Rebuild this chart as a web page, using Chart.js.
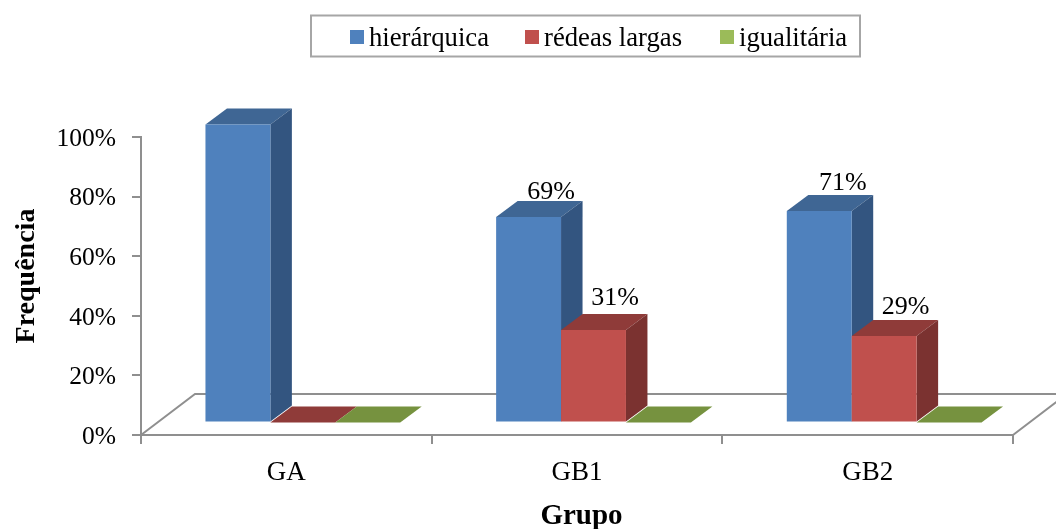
<!DOCTYPE html>
<html>
<head>
<meta charset="UTF-8">
<title>Frequência por grupo</title>
<script src="https://cdn.jsdelivr.net/npm/chart.js@4/dist/chart.umd.min.js"></script>
<style>
	html, body { margin: 0; padding: 0; background: #fff; }
	canvas { display: block; }
</style>
</head>
<body>
<canvas id="grupoChart" width="1056" height="529"></canvas>
<script>
// 데이터
const grupos = ['GA', 'GB1', 'GB2'];
const hierarquica = [100, 69, 71];
const redeasLargas = [0, 31, 29];
const igualitaria = [0, 0, 0];
const hierarquicaLabels = ['', '69%', '71%'];
const redeasLabels = ['', '31%', '29%'];
const igualitariaLabels = ['', '', ''];

const FONT = '"Liberation Serif", "Times New Roman", serif';
const AXIS_COLOR = '#8f8f8f';

// 막대 그룹을 바닥면 안쪽으로 옮기는 값과 막대 깊이
const barShift = { x: 16.5, y: -12.5 };
const barDepth = { x: 21.5, y: -16 };
const floorDepth = { x: 54, y: -41 };

const seriesStyle = [
	{ front: '#4f81bd', side: '#335580', top: '#3f6694', labels: hierarquicaLabels, nudge: [[0, 0], [1, 5], [2, 2]] },
	{ front: '#c0504d', side: '#7b3230', top: '#8f3b39', labels: redeasLabels, nudge: [[0, 0], [0, -2], [0, 1]] },
	{ front: '#9bbb59', side: '#5f7636', top: '#76923f', labels: igualitariaLabels, nudge: [[0, 0], [0, 0], [0, 0]] }
];

function face(ctx, points, color) {
	ctx.fillStyle = color;
	ctx.beginPath();
	points.forEach(function(p, i) {
		if (i == 0) ctx.moveTo(p[0], p[1]);
		else ctx.lineTo(p[0], p[1]);
	});
	ctx.closePath();
	ctx.fill();
}

const bars3d = {
	id: 'bars3d',
	// 기본 막대 그리기는 끄고 아래에서 입체로 그린다
	beforeDatasetDraw: function() {
		return false;
	},
	afterDatasetsDraw: function(chart) {
		const ctx = chart.ctx;
		const x = chart.scales.x;
		const y = chart.scales.y;
		const base = y.getPixelForValue(0);

		// 바닥면
		ctx.save();
		ctx.strokeStyle = AXIS_COLOR;
		ctx.lineWidth = 2;
		ctx.beginPath();
		ctx.moveTo(x.left, base);
		ctx.lineTo(x.left + floorDepth.x, base + floorDepth.y);
		ctx.lineTo(x.right + floorDepth.x, base + floorDepth.y);
		ctx.lineTo(x.right, base);
		ctx.stroke();
		ctx.restore();

		ctx.save();
		ctx.translate(barShift.x, barShift.y);
		grupos.forEach(function(g, i) {
			chart.data.datasets.forEach(function(ds, d) {
				const bar = chart.getDatasetMeta(d).data[i];
				const st = seriesStyle[d];
				const l = bar.x - bar.width / 2;
				const r = bar.x + bar.width / 2;
				const t = bar.y;
				const b = bar.base;
				const dx = barDepth.x;
				const dy = barDepth.y;
				face(ctx, [[l, t], [r, t], [r + dx, t + dy], [l + dx, t + dy]], st.top);
				if (b - t > 0.5) {
					face(ctx, [[r, t], [r + dx, t + dy], [r + dx, b + dy], [r, b]], st.side);
					bar.draw(ctx);
				}
			});
		});

		// 데이터 라벨
		ctx.fillStyle = '#000';
		ctx.font = '26px ' + FONT;
		ctx.textAlign = 'center';
		ctx.textBaseline = 'middle';
		chart.data.datasets.forEach(function(ds, d) {
			seriesStyle[d].labels.forEach(function(text, i) {
				if (!text) return;
				const bar = chart.getDatasetMeta(d).data[i];
				const nudge = seriesStyle[d].nudge[i];
				ctx.fillText(text, bar.x + barDepth.x + nudge[0], bar.y + barDepth.y - 14 + nudge[1]);
			});
		});
		ctx.restore();
	},
	afterDraw: function(chart) {
		const ctx = chart.ctx;
		const marks = [350, 525, 720];

		// 범례
		ctx.save();
		ctx.strokeStyle = '#a6a6a6';
		ctx.lineWidth = 2;
		ctx.strokeRect(311, 15.5, 549, 41);
		ctx.font = '26.7px ' + FONT;
		ctx.textAlign = 'left';
		ctx.textBaseline = 'middle';
		chart.data.datasets.forEach(function(ds, d) {
			ctx.fillStyle = seriesStyle[d].front;
			ctx.fillRect(marks[d], 30, 14, 14);
			ctx.fillStyle = '#000';
			ctx.fillText(ds.label, marks[d] + 19, 38.5);
		});

		// 축 제목
		ctx.fillStyle = '#000';
		ctx.font = 'bold 29px ' + FONT;
		ctx.textAlign = 'center';
		ctx.textBaseline = 'alphabetic';
		ctx.fillText('Grupo', 581.5, 524);
		ctx.font = 'bold 28px ' + FONT;
		ctx.translate(33.5, 276);
		ctx.rotate(-Math.PI / 2);
		ctx.fillText('Frequência', 0, 0);
		ctx.restore();
	}
};

new Chart(document.getElementById('grupoChart').getContext('2d'), {
	type: 'bar',
	data: {
		labels: grupos,
		datasets: [
			{ label: 'hierárquica', data: hierarquica, backgroundColor: seriesStyle[0].front },
			{ label: 'rédeas largas', data: redeasLargas, backgroundColor: seriesStyle[1].front },
			{ label: 'igualitária', data: igualitaria, backgroundColor: seriesStyle[2].front }
		]
	},
	options: {
		responsive: false,
		animation: false,
		layout: { padding: { top: 137, right: 43, left: 0, bottom: 0 } },
		datasets: { bar: { categoryPercentage: 0.67, barPercentage: 1, borderWidth: 0 } },
		scales: {
			x: {
				afterFit: function(scale) { scale.height = 94; },
				border: { color: AXIS_COLOR, width: 2 },
				grid: { drawOnChartArea: false, color: AXIS_COLOR, lineWidth: 2, tickLength: 9 },
				ticks: { color: '#000', padding: 13, font: { family: FONT, size: 27 } }
			},
			y: {
				min: 0,
				max: 100,
				afterFit: function(scale) { scale.width = 141; },
				border: { color: AXIS_COLOR, width: 2 },
				grid: { drawOnChartArea: false, color: AXIS_COLOR, lineWidth: 2, tickLength: 9 },
				ticks: {
					color: '#000',
					padding: 16,
					stepSize: 20,
					labelOffset: 2,
					font: { family: FONT, size: 25.5 },
					callback: function(value) { return value + '%'; }
				}
			}
		},
		plugins: {
			legend: { display: false },
			tooltip: { enabled: false }
		}
	},
	plugins: [bars3d]
});
</script>
</body>
</html>
